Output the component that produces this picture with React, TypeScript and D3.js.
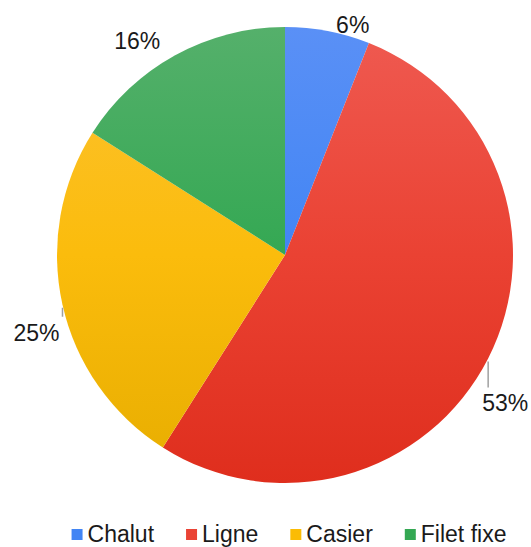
import React, { useEffect, useRef } from 'react';
import * as d3 from 'd3';

const categories = ['Chalut', 'Ligne', 'Casier', 'Filet fixe'];
const shares = [6, 53, 25, 16];
const percentLabels = ['6%', '53%', '25%', '16%'];

// couleurs du dégradé vertical : haut / milieu / bas
const topColors = ['#5a90f6', '#ef5a51', '#fcc232', '#55b06b'];
const midColors = ['#4285f4', '#ea4233', '#fbbc0c', '#34a853'];
const bottomColors = ['#3a7cf0', '#df2e1d', '#e7ad00', '#2b9a49'];
const swatchColors = ['#4285f4', '#ea4335', '#fbbc04', '#34a853'];

// décalage de l'étiquette par rapport au bord de la part, longueur du trait de rappel
const labelOffsets = [
  { dx: 25, dy: -6, line: 0 },
  { dx: 17, dy: 44, line: 29 },
  { dx: -26, dy: 28, line: 12 },
  { dx: -38, dy: -14, line: 0 },
];

const W = 531;
const H = 547;
const cx = 285;
const cy = 255;
const radius = 228;
const font = '"Liberation Sans", Arial, sans-serif';

export default function App() {
  const legendRef = useRef<SVGGElement>(null);

  const pie = d3.pie<number>().sort(null).value(d => d);
  const arcs = pie(shares);
  const arc = d3.arc<d3.PieArcDatum<number>>().innerRadius(0).outerRadius(radius);

  useEffect(() => {
    if (!legendRef.current) return;
    const g = d3.select(legendRef.current);
    g.selectAll('*').remove();
    const sw = 11;
    const gapText = 5;
    const gapItem = 32;
    const items = g.selectAll('g.item')
      .data(categories)
      .join('g')
      .attr('class', 'item');
    items.append('rect')
      .attr('y', -13)
      .attr('width', sw)
      .attr('height', sw)
      .attr('fill', (_, i) => swatchColors[i]);
    items.append('text')
      .attr('x', sw + gapText)
      .attr('y', 0)
      .style('font-family', font)
      .style('font-size', '23px')
      .style('fill', '#1a1a1a')
      .text(d => d);
    const widths: number[] = [];
    items.each(function () {
      const t = d3.select(this).select<SVGTextElement>('text').node();
      widths.push(sw + gapText + (t ? t.getComputedTextLength() : 0));
    });
    const total = d3.sum(widths) + gapItem * (widths.length - 1);
    let x = cx + 4 - total / 2;
    items.attr('transform', (_, i) => {
      const tx = x;
      x += widths[i] + gapItem;
      return `translate(${tx},542)`;
    });
  }, []);

  return (
    <div style={{ position: 'absolute', left: 0, top: 0 }}>
      <svg width={W} height={H} style={{ display: 'block', background: '#fff' }}>
        <defs>
          {categories.map((c, i) => (
            <linearGradient
              key={c}
              id={`grad${i}`}
              gradientUnits="userSpaceOnUse"
              x1={0}
              y1={-radius}
              x2={0}
              y2={radius}
            >
              <stop offset="0%" stopColor={topColors[i]} />
              <stop offset="50%" stopColor={midColors[i]} />
              <stop offset="100%" stopColor={bottomColors[i]} />
            </linearGradient>
          ))}
        </defs>
        <g transform={`translate(${cx},${cy})`}>
          {arcs.map((a, i) => (
            <path key={categories[i]} d={arc(a) || ''} fill={`url(#grad${i})`} />
          ))}
          {arcs.map((a, i) => {
            const mid = (a.startAngle + a.endAngle) / 2;
            const ex = radius * Math.sin(mid);
            const ey = -radius * Math.cos(mid);
            const o = labelOffsets[i];
            return (
              <g key={`lab${i}`}>
                {o.line > 0 && (
                  <line
                    x1={ex}
                    x2={ex}
                    y1={ey + 3}
                    y2={ey + o.line}
                    stroke="#a0a0a0"
                    strokeWidth={1.5}
                  />
                )}
                <text
                  x={ex + o.dx}
                  y={ey + o.dy}
                  textAnchor="middle"
                  dominantBaseline="central"
                  style={{ fontFamily: font, fontSize: '23px', fill: '#1a1a1a' }}
                >
                  {percentLabels[i]}
                </text>
              </g>
            );
          })}
        </g>
        <g ref={legendRef} />
      </svg>
    </div>
  );
}
